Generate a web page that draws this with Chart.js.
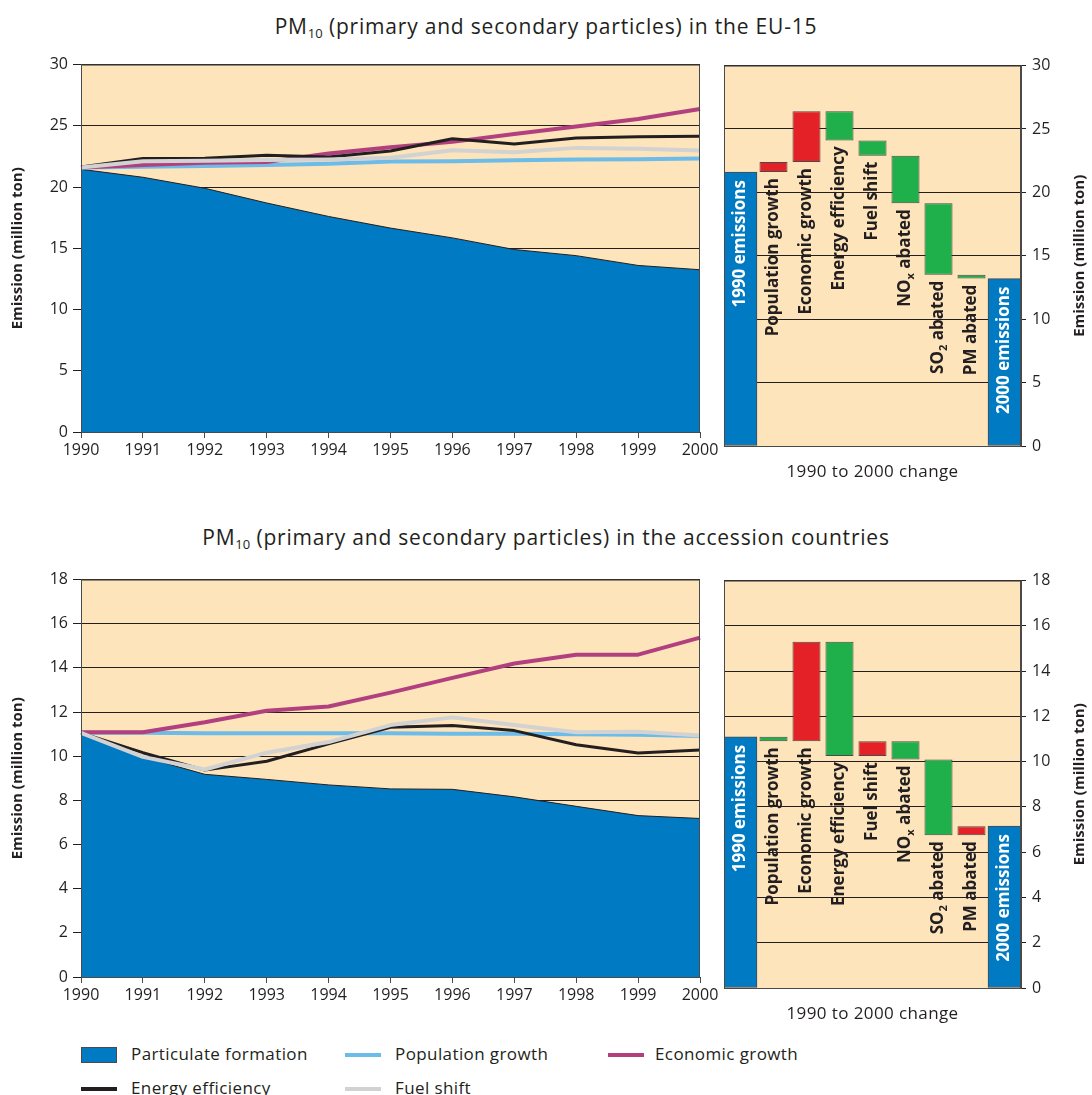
<!DOCTYPE html>
<html>
<head>
<meta charset="utf-8">
<title>PM10 emissions: drivers of change 1990-2000</title>
<script src="https://cdn.jsdelivr.net/npm/chart.js@4.4.1/dist/chart.umd.min.js"></script>
<style>
  html, body { margin: 0; padding: 0; background: #fff; }
  body {
    position: relative;
    width: 1092px;
    height: 1095px;
    overflow: hidden;
    font-family: "Open Sans", sans-serif;
    color: #231F20;
  }
  .title {
    position: absolute;
    left: 0;
    width: 1092px;
    text-align: center;
    font-size: 21px;
    letter-spacing: 0.8px;
    line-height: 28px;
  }
  .title sub { font-size: 13px; letter-spacing: 0; line-height: 0; vertical-align: -4px; }
  .panel { position: absolute; }
  .legend-item { position: absolute; font-size: 17px; letter-spacing: 0.4px; line-height: 22px; white-space: nowrap; }
  .legend-mark { position: absolute; }
</style>
</head>
<body>

<div class="title" style="top:12px">PM<sub>10</sub> (primary and secondary particles) in the EU-15</div>
<div class="title" style="top:523px">PM<sub>10</sub> (primary and secondary particles) in the accession countries</div>

<canvas class="panel" id="eu15-lines" width="730" height="420" style="left:0;top:50px"></canvas>
<canvas class="panel" id="eu15-steps" width="380" height="440" style="left:712px;top:50px"></canvas>
<canvas class="panel" id="acc-lines" width="730" height="450" style="left:0;top:565px"></canvas>
<canvas class="panel" id="acc-steps" width="380" height="460" style="left:712px;top:565px"></canvas>

<div id="legend"></div>

<script>
// ---- data -------------------------------------------------------------
const YEARS = ["1990", "1991", "1992", "1993", "1994", "1995", "1996", "1997", "1998", "1999", "2000"];

const SERIES_NAMES = ["Particulate formation", "Population growth", "Economic growth", "Energy efficiency", "Fuel shift"];

// EU-15, million ton
const EU15_PARTICULATE = [21.45, 20.8, 19.9, 18.7, 17.6, 16.65, 15.85, 14.9, 14.4, 13.6, 13.25];
const EU15_POPULATION  = [21.6, 21.66, 21.72, 21.8, 21.9, 22.08, 22.1, 22.18, 22.25, 22.28, 22.34];
const EU15_ECONOMIC    = [21.6, 21.8, 21.99, 22.05, 22.75, 23.25, 23.69, 24.33, 24.95, 25.55, 26.38];
const EU15_ENERGY      = [21.64, 22.34, 22.35, 22.6, 22.45, 22.95, 23.95, 23.52, 24.0, 24.1, 24.14];
const EU15_FUEL        = [21.6, 22.1, 22.15, 22.2, 22.26, 22.4, 23.0, 22.85, 23.2, 23.12, 22.98];

// accession countries, million ton
const ACC_PARTICULATE = [11.0, 9.97, 9.18, 8.95, 8.7, 8.52, 8.5, 8.16, 7.73, 7.31, 7.18];
const ACC_POPULATION  = [11.06, 11.06, 11.04, 11.04, 11.04, 11.04, 11.02, 11.02, 11.0, 10.97, 10.92];
const ACC_ECONOMIC    = [11.09, 11.09, 11.54, 12.06, 12.25, 12.88, 13.55, 14.2, 14.6, 14.6, 15.37];
const ACC_ENERGY      = [11.06, 10.16, 9.37, 9.77, 10.56, 11.31, 11.39, 11.16, 10.52, 10.15, 10.28];
const ACC_FUEL        = [11.06, 9.97, 9.4, 10.16, 10.64, 11.41, 11.76, 11.41, 11.09, 11.11, 10.94];

// 1990 -> 2000 decomposition ("_x" = subscript x)
const STEP_NAMES = ["1990 emissions", "Population growth", "Economic growth", "Energy efficiency",
                    "Fuel shift", "NO_x abated", "SO_2 abated", "PM abated", "2000 emissions"];
const EU15_START = 21.6;
const EU15_CHANGES = [0.8, 4.0, -2.3, -1.2, -3.75, -5.65, -0.3];
const ACC_START = 11.1;
const ACC_CHANGES = [-0.2, 4.4, -5.05, 0.65, -0.8, -3.35, 0.4];

// ---- styling ----------------------------------------------------------
const INK = "#231F20";
const FRAME = "#4a4a4a";
const PEACH = "#FDE4BA";
const BLUE = "#007AC2";
const SERIES_COLORS = [BLUE, "#6CBBE9", "#B2407F", INK, "#D2D2D2"];
const RISE = "#E42127";
const FALL = "#1FAF4B";
const FONT = '"Open Sans", sans-serif';

Chart.defaults.font.family = FONT;
Chart.defaults.font.size = 16;
Chart.defaults.color = INK;
Chart.defaults.animation = false;

// peach plot background + frame round the plot area
const plotFrame = {
  id: "plotFrame",
  beforeDraw(chart) {
    const { ctx, chartArea: a } = chart;
    ctx.save();
    ctx.fillStyle = PEACH;
    ctx.fillRect(a.left, a.top, a.right - a.left, a.bottom - a.top);
    ctx.restore();
  },
  afterDatasetsDraw(chart) {
    const { ctx, chartArea: a } = chart;
    ctx.save();
    ctx.strokeStyle = FRAME;
    ctx.lineWidth = 1;
    ctx.strokeRect(a.left + 0.5, a.top + 0.5, a.right - a.left - 1, a.bottom - a.top);
    ctx.restore();
  },
};

function lineChart(id, yMax, yStep, values) {
  const order = [5, 4, 3, 2, 1];
  const widths = [1, 4, 4, 3, 4];
  return new Chart(document.getElementById(id), {
    type: "line",
    data: {
      labels: YEARS,
      datasets: SERIES_NAMES.map((name, i) => ({
        label: name,
        data: values[i],
        borderColor: i === 0 ? INK : SERIES_COLORS[i],
        backgroundColor: SERIES_COLORS[i],
        borderWidth: widths[i],
        fill: i === 0 ? "origin" : false,
        order: order[i],
      })),
    },
    options: {
      responsive: false,
      layout: { padding: { top: 11, right: 30, left: 0, bottom: 8 } },
      elements: {
        point: { radius: 0 },
        line: { tension: 0, borderJoinStyle: "round" },
      },
      plugins: { legend: { display: false }, tooltip: { enabled: false } },
      scales: {
        x: {
          offset: false,
          grid: { drawOnChartArea: false, tickLength: 6, color: FRAME },
          border: { color: FRAME },
          ticks: { padding: 3, maxRotation: 0, autoSkip: false },
          afterFit: (s) => { s.height = 30; },
        },
        y: {
          min: 0,
          max: yMax,
          ticks: { stepSize: yStep, padding: 5 },
          grid: { color: INK, tickLength: 8 },
          border: { color: FRAME },
          title: {
            display: true,
            text: "Emission (million ton)",
            font: { size: 15, weight: "bold" },
            padding: { top: 9, bottom: 0 },
          },
          afterFit: (s) => { s.width = 81; },
        },
      },
    },
    plugins: [plotFrame],
  });
}

// rotated (bottom-to-top) label; its last letter sits at (x, y)
function drawUpright(ctx, text, x, y, color, size) {
  const parts = text.split(/_(.)/);
  const main = `bold ${size}px ${FONT}`;
  const sub = `bold ${Math.round(size * 0.62)}px ${FONT}`;
  ctx.save();
  ctx.translate(x, y);
  ctx.rotate(-Math.PI / 2);
  ctx.fillStyle = color;
  ctx.textBaseline = "middle";
  ctx.textAlign = "left";
  let total = 0;
  parts.forEach((p, k) => { ctx.font = k % 2 ? sub : main; total += ctx.measureText(p).width; });
  let pos = -total;
  parts.forEach((p, k) => {
    ctx.font = k % 2 ? sub : main;
    ctx.fillText(p, pos, k % 2 ? size * 0.32 : 0);
    pos += ctx.measureText(p).width;
  });
  ctx.restore();
}

const stepLabels = {
  id: "stepLabels",
  afterDatasetsDraw(chart) {
    const { ctx, chartArea: a } = chart;
    const totals = chart.getDatasetMeta(0).data;
    const steps = chart.getDatasetMeta(1).data;
    const last = STEP_NAMES.length - 1;
    STEP_NAMES.forEach((name, i) => {
      const isTotal = i === 0 || i === last;
      const bar = (isTotal ? totals : steps)[i];
      const { x, y, base } = bar.getProps(["x", "y", "base"], true);
      const top = Math.min(y, base);
      const bottom = Math.max(y, base);
      if (isTotal) drawUpright(ctx, name, x, top + 8, "#fff", 17);
      else drawUpright(ctx, name, x, bottom + 6, INK, 17);
    });

    // x caption under the plot and the right-hand axis title
    ctx.save();
    ctx.fillStyle = INK;
    ctx.textAlign = "center";
    ctx.textBaseline = "middle";
    ctx.font = `17px ${FONT}`;
    ctx.letterSpacing = "0.4px";
    ctx.fillText("1990 to 2000 change", (a.left + a.right) / 2, a.bottom + 26);
    ctx.letterSpacing = "0px";
    ctx.translate(368, (a.top + a.bottom) / 2);
    ctx.rotate(-Math.PI / 2);
    ctx.font = `bold 15px ${FONT}`;
    ctx.fillText("Emission (million ton)", 0, 0);
    ctx.restore();
  },
};

function stepChart(id, yMax, yStep, start, changes, bottomPad) {
  const end = changes.reduce((s, c) => s + c, start);
  const totals = STEP_NAMES.map((_, i) => (i === 0 ? [0, start] : i === STEP_NAMES.length - 1 ? [0, end] : null));
  const steps = [null];
  const colors = [null];
  let level = start;
  changes.forEach((c) => {
    steps.push([level, level + c]);
    colors.push(c > 0 ? RISE : FALL);
    level += c;
  });
  steps.push(null);
  colors.push(null);

  return new Chart(document.getElementById(id), {
    type: "bar",
    data: {
      labels: STEP_NAMES,
      datasets: [
        {
          data: totals, backgroundColor: BLUE, borderColor: FRAME, borderWidth: 1,
          borderSkipped: false, grouped: false, barPercentage: 1, categoryPercentage: 1,
        },
        {
          data: steps, backgroundColor: colors, borderColor: FRAME, borderWidth: 1,
          borderSkipped: false, grouped: false, barPercentage: 0.85, categoryPercentage: 1,
        },
      ],
    },
    options: {
      responsive: false,
      layout: { padding: { top: 11, right: 0, left: 12, bottom: bottomPad } },
      plugins: { legend: { display: false }, tooltip: { enabled: false } },
      scales: {
        x: { display: false },
        y: {
          position: "right",
          min: 0,
          max: yMax,
          ticks: { stepSize: yStep, padding: 6 },
          grid: { color: INK, tickLength: 5 },
          border: { color: FRAME },
          afterFit: (s) => { s.width = 71; },
        },
      },
    },
    plugins: [plotFrame, stepLabels],
  });
}

lineChart("eu15-lines", 30, 5, [EU15_PARTICULATE, EU15_POPULATION, EU15_ECONOMIC, EU15_ENERGY, EU15_FUEL]);
stepChart("eu15-steps", 30, 5, EU15_START, EU15_CHANGES, 44);
lineChart("acc-lines", 18, 2, [ACC_PARTICULATE, ACC_POPULATION, ACC_ECONOMIC, ACC_ENERGY, ACC_FUEL]);
stepChart("acc-steps", 18, 2, ACC_START, ACC_CHANGES, 37);

// ---- legend -------------------------------------------------------------
const LEGEND_SLOTS = [[81, 1055, 131], [345, 1055, 395], [608, 1055, 655], [81, 1089, 131], [345, 1089, 395]];
const legend = document.getElementById("legend");
SERIES_NAMES.forEach((name, i) => {
  const [x, cy, tx] = LEGEND_SLOTS[i];
  const mark = document.createElement("div");
  mark.className = "legend-mark";
  if (i === 0) {
    Object.assign(mark.style, {
      left: x + "px", top: cy - 8 + "px", width: "34px", height: "14px",
      background: BLUE, border: "1px solid " + FRAME,
    });
  } else {
    Object.assign(mark.style, {
      left: x + "px", top: cy - 2 + "px", width: "36px", height: "4px",
      background: SERIES_COLORS[i],
    });
  }
  legend.appendChild(mark);
  const label = document.createElement("div");
  label.className = "legend-item";
  label.textContent = name;
  Object.assign(label.style, { left: tx + "px", top: cy - 12 + "px" });
  legend.appendChild(label);
});
</script>
</body>
</html>
